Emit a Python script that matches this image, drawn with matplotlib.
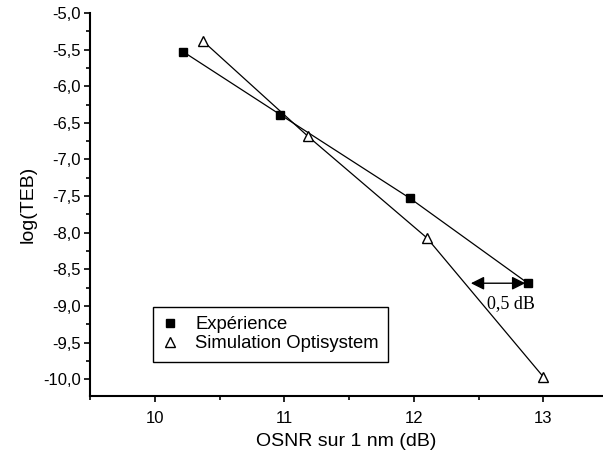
import matplotlib

matplotlib.use("Agg")
import matplotlib.pyplot as plt
from matplotlib.ticker import MultipleLocator, FuncFormatter

# données
osnr_exp = [10.22, 10.97, 11.97, 12.88]
teb_exp = [-5.53, -6.39, -7.53, -8.69]
osnr_sim = [10.37, 11.18, 12.10, 13.00]
teb_sim = [-5.38, -6.68, -8.07, -9.97]

arrow_x = [12.44, 12.86]
arrow_y = -8.69
note_xy = (12.75, -8.97)

plt.rcParams["font.family"] = ["Liberation Sans", "DejaVu Sans"]

fig = plt.figure(figsize=(6.03, 4.59), dpi=100)
ax = fig.add_axes([90 / 603, 1 - 396 / 459, 1 - 90 / 603, (396 - 13) / 459])

ax.plot(osnr_exp, teb_exp, color="black", lw=0.9, marker="s", ms=6,
        mfc="black", mec="black", label="Expérience")
ax.plot(osnr_sim, teb_sim, color="black", lw=0.9, marker="^", ms=7.5,
        mfc="white", mec="black", mew=1.0, label="Simulation Optisystem")

ax.annotate("", xy=(arrow_x[0], arrow_y), xytext=(arrow_x[1], arrow_y),
            arrowprops=dict(arrowstyle="<|-|>", color="black", lw=1.0,
                            mutation_scale=20, shrinkA=0, shrinkB=0))
ax.text(note_xy[0], note_xy[1], "0,5 dB", family="Liberation Serif",
        fontsize=13, ha="center", va="center")

ax.set_xlim(9.5, 13.46)
ax.set_ylim(-10.23, -5.0)
ax.xaxis.set_major_locator(MultipleLocator(1))
ax.xaxis.set_minor_locator(MultipleLocator(0.5))
ax.yaxis.set_major_locator(MultipleLocator(0.5))
ax.yaxis.set_minor_locator(MultipleLocator(0.25))
ax.yaxis.set_major_formatter(FuncFormatter(lambda v, p: f"{v:.1f}".replace(".", ",")))
ax.tick_params(which="major", direction="out", length=4.5, width=1.2, labelsize=12)
ax.tick_params(which="minor", direction="out", length=3, width=1.2)
ax.tick_params(axis="x", pad=6)
ax.tick_params(axis="y", pad=2)
for s in ("top", "right"):
    ax.spines[s].set_visible(False)
for s in ("left", "bottom"):
    ax.spines[s].set_linewidth(1.5)

ax.set_xlabel("OSNR sur 1 nm (dB)", fontsize=14, labelpad=5)
ax.set_ylabel("log(TEB)", fontsize=14, labelpad=5)

leg = ax.legend(loc="upper left", bbox_to_anchor=(153 / 603, 1 - 307 / 459),
                bbox_transform=fig.transFigure, borderaxespad=0, fontsize=13.3,
                fancybox=False, edgecolor="black", handlelength=0.8,
                handletextpad=1.0, borderpad=0.5, labelspacing=0.12,
                framealpha=1)
for h in leg.legend_handles:
    h.set_linestyle("none")
leg.get_frame().set_linewidth(1.0)

fig.savefig("out.png", dpi=100)
